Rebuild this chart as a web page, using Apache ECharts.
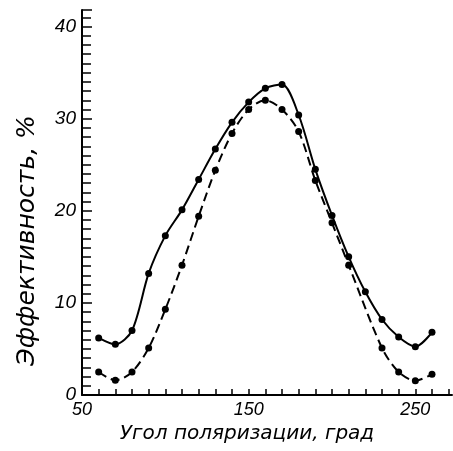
<!DOCTYPE html>
<html>
<head>
<meta charset="utf-8">
<script src="https://cdn.jsdelivr.net/npm/echarts@6/dist/echarts.min.js"></script>
<style>
  html, body { margin: 0; padding: 0; background: #fff; }
  #chart { width: 453px; height: 451px; }
</style>
</head>
<body>
<div id="chart"></div>
<script>
const angles = [60, 70, 80, 90, 100, 110, 120, 130, 140, 150, 160, 170, 180, 190, 200, 210, 220, 230, 240, 250, 260];

const solidValues = [
  6.2, 5.5, 7.0, 13.2, 17.3, 20.1, 23.4, 26.7, 29.6, 31.8,
  33.3, 33.7, 30.4, 24.5, 19.5, 15.0, 11.2, 8.2, 6.3, 5.25, 6.8
];

// no visible point at 220 on the dashed curve
const dashedValues = [
  2.5, 1.6, 2.5, 5.1, 9.3, 14.1, 19.4, 24.4, 28.4, 31.0,
  32.0, 31.0, 28.6, 23.3, 18.7, 14.1, null, 5.1, 2.5, 1.55, 2.25
];

const xLabels = [50, 150, 250];

function toPairs(values) {
  return angles.map((angle, i) => [angle, values[i]]);
}

const chart = echarts.init(document.getElementById('chart'));

const tickFont = {
  color: '#000',
  fontFamily: 'Liberation Sans',
  fontStyle: 'italic',
  fontSize: 18
};

chart.setOption({
  animation: false,
  grid: { left: 82, right: 1, top: 10, bottom: 56 },
  xAxis: {
    type: 'value',
    min: 50,
    max: 272,
    interval: 10,
    name: 'Угол поляризации, град',
    nameLocation: 'middle',
    nameGap: 25,
    nameTextStyle: {
      color: '#000',
      fontFamily: 'DejaVu Sans',
      fontStyle: 'italic',
      fontSize: 20,
      padding: [0, 40, 0, 0]
    },
    axisLine: { lineStyle: { color: '#000', width: 2 } },
    axisTick: { inside: true, length: 6, lineStyle: { color: '#000', width: 1.5 } },
    axisLabel: {
      ...tickFont,
      margin: 6,
      showMaxLabel: false,
      formatter: (value) => (xLabels.includes(value) ? String(value) : '')
    },
    splitLine: { show: false }
  },
  yAxis: {
    type: 'value',
    min: 0,
    max: 41.8,
    interval: 10,
    name: 'Эффективность, %',
    nameLocation: 'middle',
    nameGap: 42,
    nameTextStyle: {
      color: '#000',
      fontFamily: 'DejaVu Sans',
      fontStyle: 'italic',
      fontSize: 25,
      padding: [0, 76, 0, 0]
    },
    axisLine: { show: true, lineStyle: { color: '#000', width: 2 } },
    axisTick: { show: true, inside: true, length: 10, lineStyle: { color: '#000', width: 1.5 } },
    minorTick: { show: true, splitNumber: 10, length: 9, lineStyle: { color: '#000', width: 1.5 } },
    axisLabel: {
      ...tickFont,
      fontSize: 19,
      margin: 6,
      showMaxLabel: false,
      formatter: (value) => (value % 10 === 0 ? String(value) : '')
    },
    splitLine: { show: false }
  },
  series: [
    {
      name: 'solid',
      type: 'line',
      data: toPairs(solidValues),
      smooth: 0.3,
      symbol: 'circle',
      symbolSize: 7,
      itemStyle: { color: '#000' },
      lineStyle: { color: '#000', width: 2 }
    },
    {
      name: 'dashed',
      type: 'line',
      data: toPairs(dashedValues),
      connectNulls: true,
      smooth: 0.3,
      symbol: 'circle',
      symbolSize: 7,
      itemStyle: { color: '#000' },
      lineStyle: { color: '#000', width: 2, type: [9, 5] }
    }
  ]
});
</script>
</body>
</html>
